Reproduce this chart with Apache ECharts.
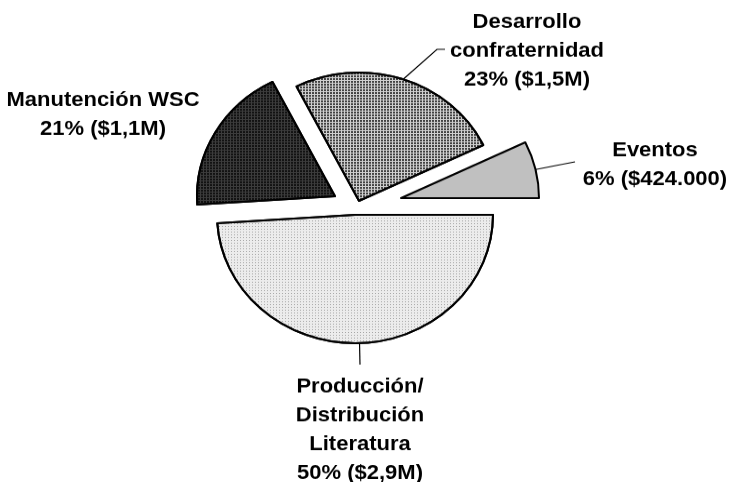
<!DOCTYPE html>
<html>
<head>
<meta charset="utf-8">
<script src="https://cdn.jsdelivr.net/npm/echarts@6/dist/echarts.min.js"></script>
<style>
    html, body { margin: 0; padding: 0; background: #fff; overflow: hidden; }
    /* el original está un poco aplastado en vertical */
    #chart { width: 729px; height: 518px; transform: scale(1, 0.93); transform-origin: 0 0; }
</style>
</head>
<body>
<div id="chart"></div>
<script>
    // datos (montos en millones de $)
    var categories = ['Producción/\nDistribución\nLiteratura', 'Manutención WSC', 'Desarrollo\nconfraternidad', 'Eventos'];
    var amounts = [2.9, 1.1, 1.5, 0.424];
    var pctLabels = ['50%', '21%', '23%', '6%'];
    var amountLabels = ['$2,9M', '$1,1M', '$1,5M', '$424.000'];

    // estilo y posiciones (cada porción separada del centro)
    var fills = ['#ececec', '#3c3c3c', '#d0d0d0', '#c0c0c0'];
    var decals = [
        {symbol: 'rect', symbolSize: 1, dashArrayX: [1, 2], dashArrayY: [1, 2], color: 'rgba(120,120,120,0.6)'},
        {symbol: 'rect', symbolSize: 1, dashArrayX: [2, 1], dashArrayY: [2, 1], color: 'rgba(10,10,10,0.85)'},
        {symbol: 'rect', symbolSize: 1, dashArrayX: [2, 1], dashArrayY: [2, 1], color: 'rgba(30,30,30,0.8)'},
        null
    ];
    var centers = [[355, 231], [335, 211], [359, 216], [401, 213]];
    var labelAt = [[360, 462], [103, 123], [527, 55], [655, 177]];
    var elbows = [[[360, 392]], null, [[437, 53], [445, 53]], [[575, 174]]];

    var chart = echarts.init(document.getElementById('chart'));

    var series = categories.map(function (c, k) {
        return {
            type: 'pie',
            center: centers[k],
            radius: 138,
            startAngle: 0,
            clockwise: true,
            avoidLabelOverlap: false,
            silent: true,
            emphasis: {disabled: true},
            data: categories.map(function (name, i) {
                var own = i === k;
                var style = {color: 'rgba(0,0,0,0)', borderWidth: 0};
                if (own) {
                    style = {color: fills[i], borderColor: '#000', borderWidth: 2};
                    if (decals[i]) style.decal = decals[i];
                }
                return {
                    name: name,
                    value: amounts[i],
                    itemStyle: style,
                    label: {show: own},
                    labelLine: {show: own && elbows[i] !== null}
                };
            }),
            label: {
                position: 'outside',
                formatter: function (p) {
                    return p.name + '\n' + pctLabels[p.dataIndex] + ' (' + amountLabels[p.dataIndex] + ')';
                },
                fontFamily: '"Liberation Sans", Arial, sans-serif',
                fontWeight: 'bold',
                fontSize: 22,
                lineHeight: 31,
                color: '#000',
                align: 'center'
            },
            labelLine: {lineStyle: {color: '#000', width: 1.2}},
            labelLayout: function (p) {
                var pos = labelAt[p.dataIndex];
                var out = {x: pos[0], y: pos[1], align: 'center', verticalAlign: 'middle'};
                if (elbows[p.dataIndex] && p.labelLinePoints) {
                    out.labelLinePoints = [p.labelLinePoints[0]].concat(elbows[p.dataIndex]);
                }
                return out;
            }
        };
    });

    chart.setOption({
        animation: false,
        series: series
    });
</script>
</body>
</html>
